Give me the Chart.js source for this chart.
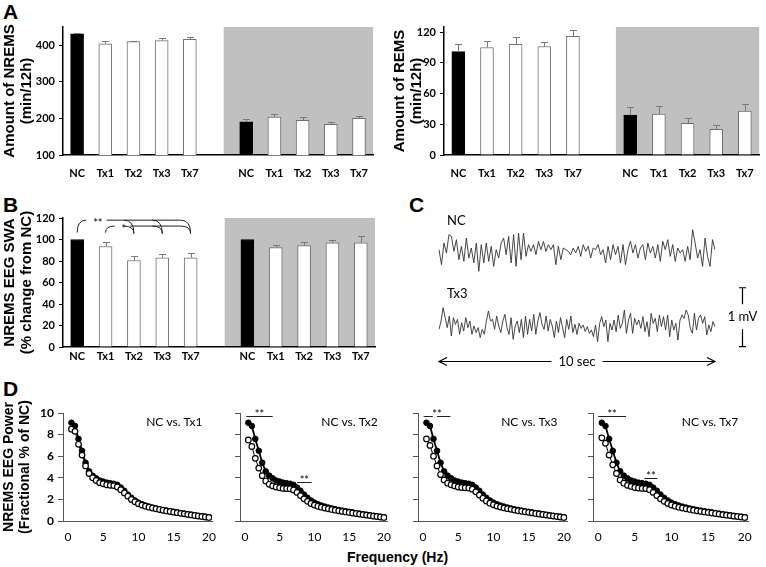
<!DOCTYPE html>
<html>
<head>
<meta charset="utf-8">
<script src="https://cdn.jsdelivr.net/npm/chart.js@4.4.1/dist/chart.umd.min.js"></script>
<style>
  body { margin: 0; background: #fff; width: 766px; height: 567px; position: relative; overflow: hidden; }
  canvas { position: absolute; }
  .panel { position: absolute; font: bold 21px "Liberation Sans", Arial, sans-serif; line-height: 1; color: #000; }
  .xtitle { position: absolute; font: bold 14px "Liberation Sans", Arial, sans-serif; color: #000; }
</style>
</head>
<body>
<div class="panel" style="left:3px;top:1px">A</div>
<div class="panel" style="left:3px;top:194px">B</div>
<div class="panel" style="left:409px;top:194px">C</div>
<div class="panel" style="left:3px;top:378px">D</div>
<div class="xtitle" style="left:347px;top:549px">Frequency (Hz)</div>

<canvas id="nrems" style="left:0;top:0" width="380" height="185"></canvas>
<canvas id="rems" style="left:380px;top:0" width="386" height="185"></canvas>
<canvas id="swa" style="left:0;top:190px" width="380" height="180"></canvas>
<canvas id="eegNC" style="left:430px;top:210px" width="300" height="70"></canvas>
<canvas id="eegTx3" style="left:430px;top:280px" width="336" height="90"></canvas>
<canvas id="specTx1" style="left:0;top:395px" width="225" height="150"></canvas>
<canvas id="specTx2" style="left:225px;top:395px" width="175" height="150"></canvas>
<canvas id="specTx3" style="left:403px;top:395px" width="177" height="150"></canvas>
<canvas id="specTx7" style="left:578px;top:395px" width="188" height="150"></canvas>

<script>
(function () {
  'use strict';

  /* global Chart */

  // ---- data ----
  var groups = ['NC', 'Tx1', 'Tx2', 'Tx3', 'Tx7'];

  // A: sleep amount (min/12h), light phase then dark phase
  var nremsLight = [431, 404, 410, 413, 416];
  var nremsLightSem = [3, 9, 3, 7, 6];
  var nremsDark = [191, 204, 195, 184, 200];
  var nremsDarkSem = [7, 9, 10, 7, 7];

  var remsLight = [101, 105, 108, 106, 116];
  var remsLightSem = [7, 6, 7, 4, 6.5];
  var remsDark = [39, 40, 31, 25, 43];
  var remsDarkSem = [7.5, 8, 5, 4, 6.5];

  // B: NREMS SWA (% of NC)
  var swaLight = [100, 93.5, 80.5, 83, 83];
  var swaLightSem = [0, 4.5, 3.8, 3.7, 4.3];
  var swaDark = [100, 92.5, 94.3, 97, 97];
  var swaDarkSem = [0, 2.2, 3.4, 2.8, 6];

  // C: raw EEG, 10 s (uV)
  var eegNC = [57, -198, 170, 0, 312, 283, 28, 227, -113, 113, -142, 255, -85, 85, -170, 170, -312, 142, -170, 170,
    -142, 113, -227, 57, -85, 170, 255, -28, 283, -170, 312, -227, 340, -113, 340, -57, 142, 28, 142, -28,
    198, 57, 198, 28, 142, 57, 142, -198, 113, -113, 85, 57,
    28, -28, 85, 0, 113, -57, 142, 28, 113, -85, 85, 57, 142, -28, 57, -170, 113, -113, 142, -28,
    113, -170, 142, -198, 57, 198, 0, 142, -85, 85, 142, -113, 170, 0, 113, -85, 142, -142, 198, 57,
    227, -57, 142, -142, 85, 0, 57, -142, 113, -113, 397, 170, -85, 57, -227, 255, -57, -227, 227, 57];
  var eegTx3 = [-57, 85, 312, 142, -28, 170, -170, 142, 28, 113, -142, 57, -85, 142, -28, 85, -142, 0, -113, -28,
    -198, -57, -142, 85, 255, 85, 113, -57, 170, 0, -113, 85, 198, -28, -142, 142, -227, 0, 85, -113,
    113, -198, 170, -142, 113, -85, 198, -142, 85, 227, 28, -57, 170, -85, 113, 0, -198, 85, -113, 142,
    -28, -198, 113, -57, 170, -113, 28, -142,
    45, -40, 17, -96, -11, -125, -68, -181, 17, -266, 45, 159, -11, 102, -266, 45, -68, 102, -96, 187,
    -40, 45, 272, -125, 102, 215, -125, 130, 17, 102, -40, 159, -96, 74, -181, 215, 45, 130, -96, 187,
    -11, 159, -68, 187, -181, 102, -68, 45, -238, 102, 187, 130, 272, 187, -40, -125, 215, -68, 130, 187,
    45, 159, -153, 17, -96, 74, -11];

  // D: NREMS EEG power spectra (fractional % of NC)
  var freqs = [0.5, 1, 1.5, 2, 2.5, 3, 3.5, 4, 4.5, 5, 5.5, 6, 6.5, 7, 7.5, 8, 8.5, 9, 9.5, 10,
    10.5, 11, 11.5, 12, 12.5, 13, 13.5, 14, 14.5, 15, 15.5, 16, 16.5, 17, 17.5, 18, 18.5, 19, 19.5, 20];
  var powerNC = [9.1, 8.8, 7.6, 6.5, 5.4, 4.6, 4.2, 3.95, 3.75, 3.65, 3.55, 3.5, 3.45, 3.35, 3.1, 2.8, 2.45, 2.15, 1.9, 1.7,
    1.55, 1.43, 1.33, 1.24, 1.16, 1.09, 1.02, 0.96, 0.9, 0.85, 0.79, 0.73, 0.68, 0.63, 0.58, 0.53, 0.48, 0.43, 0.39, 0.35];
  var powerTx1 = [8.5, 8.3, 7.1, 6.1, 5.1, 4.4, 4.0, 3.75, 3.55, 3.45, 3.35, 3.3, 3.28, 3.15, 2.9, 2.6, 2.3, 2.0, 1.78, 1.6,
    1.47, 1.37, 1.28, 1.2, 1.13, 1.06, 0.99, 0.93, 0.88, 0.82, 0.77, 0.71, 0.66, 0.61, 0.56, 0.51, 0.46, 0.42, 0.37, 0.33];
  var powerTx2 = [7.5, 6.9, 5.8, 4.9, 4.2, 3.7, 3.4, 3.25, 3.15, 3.08, 3.02, 3.0, 2.98, 2.88, 2.65, 2.35, 2.05, 1.82, 1.62, 1.47,
    1.36, 1.28, 1.2, 1.13, 1.07, 1.0, 0.94, 0.89, 0.84, 0.79, 0.74, 0.69, 0.64, 0.59, 0.54, 0.5, 0.45, 0.41, 0.37, 0.33];
  var powerTx3 = [7.6, 7.0, 6.0, 5.1, 4.3, 3.8, 3.5, 3.35, 3.25, 3.15, 3.1, 3.08, 3.05, 2.95, 2.7, 2.4, 2.1, 1.85, 1.65, 1.5,
    1.38, 1.29, 1.21, 1.14, 1.08, 1.01, 0.95, 0.9, 0.85, 0.8, 0.75, 0.7, 0.65, 0.6, 0.55, 0.5, 0.46, 0.41, 0.37, 0.33];
  var powerTx7 = [7.7, 7.2, 6.1, 5.2, 4.4, 3.8, 3.5, 3.3, 3.2, 3.1, 3.05, 3.02, 3.0, 2.9, 2.65, 2.35, 2.05, 1.82, 1.63, 1.48,
    1.37, 1.28, 1.2, 1.13, 1.07, 1.0, 0.94, 0.89, 0.84, 0.79, 0.74, 0.69, 0.64, 0.59, 0.54, 0.5, 0.45, 0.41, 0.37, 0.33];
  var freqTicks = [0, 5, 10, 15, 20];
  var powerTicks = [0, 2, 4, 6, 8, 10];

  // ---- shared style ----
  Chart.defaults.font.family = 'Lato, "Open Sans", sans-serif';
  Chart.defaults.color = '#000';
  Chart.defaults.animation = false;
  Chart.defaults.plugins.legend.display = false;
  Chart.defaults.plugins.tooltip.enabled = false;

  var titleFont = { family: '"Liberation Sans", Arial, sans-serif', weight: 'bold', size: 15, lineHeight: 1.1 };

  function fixedTicks(list) {
    return function (axis) {
      axis.ticks = list.map(function (v) { return { value: v }; });
    };
  }

  // ---- bar panels (A, B) ----
  function barPanel(id, o) {
    var labels = groups.concat([''], groups);
    var values = o.light.concat([null], o.dark);
    var sems = o.lightSem.concat([null], o.darkSem);

    var shadePlugin = {
      id: 'darkPhase',
      beforeDatasetsDraw: function (chart) {
        var ctx = chart.ctx, a = chart.chartArea, x = chart.scales.x;
        var step = x.getPixelForValue(6) - x.getPixelForValue(5);
        var left = x.getPixelForValue(5) + o.shadeFrom * step;
        ctx.save();
        ctx.fillStyle = '#c0c0c0';
        ctx.fillRect(left, a.top, a.right - left, a.bottom - a.top - 1);
        ctx.restore();
      }
    };

    var semPlugin = {
      id: 'semBars',
      afterDatasetsDraw: function (chart) {
        var ctx = chart.ctx, y = chart.scales.y, meta = chart.getDatasetMeta(0);
        ctx.save();
        ctx.strokeStyle = '#7a7a7a';
        ctx.lineWidth = 1;
        sems.forEach(function (s, i) {
          if (!s) return;
          var bx = Math.round(meta.data[i].x) + 0.5;
          var top = Math.round(y.getPixelForValue(values[i] + s)) + 0.5;
          ctx.beginPath();
          ctx.moveTo(bx, meta.data[i].y);
          ctx.lineTo(bx, top);
          ctx.moveTo(bx - 3.5, top);
          ctx.lineTo(bx + 3.5, top);
          ctx.stroke();
        });
        ctx.restore();
      }
    };

    return new Chart(document.getElementById(id), {
      type: 'bar',
      data: {
        labels: labels,
        datasets: [{
          data: values,
          backgroundColor: labels.map(function (l) { return l === 'NC' ? '#000' : '#fff'; }),
          borderColor: labels.map(function (l) { return l === 'NC' ? '#000' : '#707070'; }),
          borderWidth: 1,
          barThickness: 13,
          borderSkipped: 'bottom'
        }]
      },
      options: {
        responsive: false,
        devicePixelRatio: 1,
        layout: { padding: { top: o.padTop, right: o.padRight, left: 0, bottom: 0 } },
        scales: {
          x: {
            afterFit: function (axis) { axis.height = o.xHeight; },
            border: { display: true, color: '#000', width: 1.5 },
            grid: { display: false, drawTicks: false },
            ticks: { font: { weight: 'bold', size: 11 }, padding: o.xPad, autoSkip: false, maxRotation: 0 }
          },
          y: {
            min: o.min,
            max: o.max,
            afterBuildTicks: fixedTicks(o.ticks),
            afterFit: function (axis) { axis.width = o.yWidth; },
            border: { display: true, color: '#000', width: 1.5 },
            grid: { drawOnChartArea: false, drawTicks: true, tickLength: 4, color: '#000' },
            ticks: { font: { weight: 'bold', size: 11 }, padding: 4 },
            title: { display: true, text: o.title, font: titleFont, padding: { top: o.titlePad, bottom: 0 } }
          }
        }
      },
      plugins: [shadePlugin, semPlugin].concat(o.plugins || [])
    });
  }

  barPanel('nrems', {
    light: nremsLight, lightSem: nremsLightSem, dark: nremsDark, darkSem: nremsDarkSem,
    min: 100, max: 450, ticks: [100, 200, 300, 400],
    title: ['Amount of NREMS', '(min/12h)'], titlePad: 2,
    yWidth: 63, padTop: 27, padRight: 3, xHeight: 30, xPad: 12, shadeFrom: 0.2
  });

  barPanel('rems', {
    light: remsLight, lightSem: remsLightSem, dark: remsDark, darkSem: remsDarkSem,
    min: 0, max: 125, ticks: [0, 30, 60, 90, 120],
    title: ['Amount of REMS', '(min/12h)'], titlePad: 12,
    yWidth: 64, padTop: 27, padRight: 6, xHeight: 30, xPad: 12, shadeFrom: 0.5
  });

  // significance brackets in B (value units on the SWA axis)
  var swaBrackets = [
    { from: 0, label: '**', level: 118, targets: [2, 3, 4] },
    { from: 1, label: '*', level: 112.5, targets: [2, 3, 4] }
  ];
  var bracketEnd = 105.5;

  var bracketPlugin = {
    id: 'swaBrackets',
    afterDatasetsDraw: function (chart) {
      var ctx = chart.ctx, x = chart.scales.x, y = chart.scales.y;
      var yEnd = y.getPixelForValue(bracketEnd);
      ctx.save();
      ctx.strokeStyle = '#222';
      ctx.fillStyle = '#000';
      ctx.lineWidth = 1;
      ctx.font = '11px Lato, sans-serif';
      ctx.textBaseline = 'middle';
      swaBrackets.forEach(function (b) {
        var x0 = x.getPixelForValue(b.from);
        var yl = y.getPixelForValue(b.level);
        ctx.beginPath();
        ctx.moveTo(x0, yEnd - 1);
        ctx.quadraticCurveTo(x0, yl, x0 + 9, yl);
        ctx.stroke();
        var tx = x0 + 16;
        ctx.fillText(b.label, tx, yl + 3);
        var lineStart = tx + ctx.measureText(b.label).width + 4;
        var last = x.getPixelForValue(b.targets[b.targets.length - 1]);
        ctx.beginPath();
        ctx.moveTo(lineStart, yl);
        ctx.lineTo(last - 10, yl);
        b.targets.forEach(function (t) {
          var xt = x.getPixelForValue(t);
          ctx.moveTo(xt - 10, yl);
          ctx.quadraticCurveTo(xt, yl, xt, yEnd);
        });
        ctx.stroke();
      });
      ctx.restore();
    }
  };

  barPanel('swa', {
    light: swaLight, lightSem: swaLightSem, dark: swaDark, darkSem: swaDarkSem,
    min: 0, max: 120, ticks: [0, 20, 40, 60, 80, 100, 120],
    title: ['NREMS EEG SWA', '(% change from NC)'], titlePad: 2,
    yWidth: 63, padTop: 28, padRight: 5, xHeight: 23, xPad: 3, shadeFrom: 0.2,
    plugins: [bracketPlugin]
  });

  // ---- raw EEG traces (C) ----
  var uvPerPx = 17;

  function tracePanel(id, values, name, pad, decorate) {
    return new Chart(document.getElementById(id), {
      type: 'line',
      data: {
        labels: values.map(function (v, i) { return i; }),
        datasets: [{ data: values, borderColor: '#333', borderWidth: 0.9, pointRadius: 0, tension: 0 }]
      },
      options: {
        responsive: false,
        devicePixelRatio: 1,
        layout: { padding: pad },
        scales: {
          x: { display: false },
          y: { display: false, min: -25 * uvPerPx, max: 25 * uvPerPx }
        }
      },
      plugins: [{
        id: 'traceText',
        afterDraw: function (chart) {
          var ctx = chart.ctx;
          ctx.save();
          ctx.fillStyle = '#000';
          ctx.font = '13px Lato, sans-serif';
          ctx.textBaseline = 'middle';
          ctx.fillText(name, chart.chartArea.left + 8, chart.chartArea.top - 7);
          if (decorate) decorate(chart, ctx);
          ctx.restore();
        }
      }]
    });
  }

  tracePanel('eegNC', eegNC, 'NC', { left: 9, right: 15, top: 18, bottom: 2 });

  tracePanel('eegTx3', eegTx3, 'Tx3', { left: 9, right: 51, top: 21, bottom: 19 }, function (chart, ctx) {
    var a = chart.chartArea, y = chart.scales.y;
    // 1 mV scale bar
    var barX = a.right + 27.5;
    var top = y.getPixelForValue(650), bot = y.getPixelForValue(-350);
    var mid = (top + bot) / 2;
    ctx.strokeStyle = '#000';
    ctx.lineWidth = 1.2;
    ctx.beginPath();
    ctx.moveTo(barX - 3.5, top); ctx.lineTo(barX + 3.5, top);
    ctx.moveTo(barX, top); ctx.lineTo(barX, mid - 13);
    ctx.moveTo(barX, mid + 12); ctx.lineTo(barX, bot);
    ctx.moveTo(barX - 3.5, bot); ctx.lineTo(barX + 3.5, bot);
    ctx.stroke();
    ctx.textAlign = 'center';
    ctx.fillText('1 mV', barX, mid);
    // 10 s arrow
    var ay = a.bottom + 10.5, cx = (a.left + a.right) / 2;
    ctx.fillText('10 sec', cx, ay);
    var half = ctx.measureText('10 sec').width / 2 + 7;
    ctx.beginPath();
    ctx.moveTo(a.left, ay); ctx.lineTo(cx - half, ay);
    ctx.moveTo(cx + half, ay); ctx.lineTo(a.right, ay);
    ctx.moveTo(a.left + 8, ay - 4); ctx.lineTo(a.left, ay); ctx.lineTo(a.left + 8, ay + 4);
    ctx.moveTo(a.right - 8, ay - 4); ctx.lineTo(a.right, ay); ctx.lineTo(a.right - 8, ay + 4);
    ctx.stroke();
  });

  // ---- spectra (D) ----
  var spectra = [
    { id: 'specTx1', name: 'Tx1', values: powerTx1, first: true, padRight: 6.5, sig: [] },
    { id: 'specTx2', name: 'Tx2', values: powerTx2, padRight: 4.5,
      sig: [{ segs: [[0.2, 4]], level: 9.7 }, { segs: [[7.5, 9.6]], level: 3.6 }] },
    { id: 'specTx3', name: 'Tx3', values: powerTx3, padRight: 6.5,
      sig: [{ segs: [[0.1, 1.4], [2.0, 3.9]], level: 9.7 }] },
    { id: 'specTx7', name: 'Tx7', values: powerTx7, padRight: 17.5,
      sig: [{ segs: [[0, 3.8]], level: 9.7 }, { segs: [[6.3, 8.1]], level: 4.0 }] }
  ];

  function points(vals) {
    return freqs.map(function (f, i) { return { x: f, y: vals[i] }; });
  }

  spectra.forEach(function (s) {
    var notePlugin = {
      id: 'spectrumNotes',
      afterDraw: function (chart) {
        var ctx = chart.ctx, x = chart.scales.x, y = chart.scales.y;
        ctx.save();
        ctx.fillStyle = '#000';
        ctx.strokeStyle = '#222';
        ctx.lineWidth = 1;
        ctx.font = '12px Lato, sans-serif';
        ctx.textAlign = 'right';
        ctx.textBaseline = 'middle';
        ctx.fillText('NC vs. ' + s.name, x.getPixelForValue(19.1), y.getPixelForValue(9.2));
        ctx.font = '11px Lato, sans-serif';
        ctx.textAlign = 'center';
        ctx.textBaseline = 'alphabetic';
        s.sig.forEach(function (band) {
          var yl = Math.round(y.getPixelForValue(band.level)) + 0.5;
          ctx.beginPath();
          band.segs.forEach(function (seg) {
            ctx.moveTo(x.getPixelForValue(seg[0]), yl);
            ctx.lineTo(x.getPixelForValue(seg[1]), yl);
          });
          ctx.stroke();
          var lo = band.segs[0][0], hi = band.segs[band.segs.length - 1][1];
          ctx.fillText('**', x.getPixelForValue((lo + hi) / 2), yl + 1);
        });
        ctx.restore();
      }
    };

    new Chart(document.getElementById(s.id), {
      type: 'line',
      data: {
        datasets: [{
          label: s.name,
          data: points(s.values),
          borderColor: '#000',
          borderWidth: 1,
          pointRadius: 2.8,
          pointBackgroundColor: '#fff',
          pointBorderColor: '#000',
          pointBorderWidth: 1.2,
          tension: 0
        }, {
          label: 'NC',
          data: points(powerNC),
          borderColor: '#000',
          borderWidth: 1.8,
          pointRadius: 2.8,
          pointBackgroundColor: '#000',
          pointBorderColor: '#000',
          pointBorderWidth: 1,
          tension: 0
        }]
      },
      options: {
        responsive: false,
        devicePixelRatio: 1,
        layout: { padding: { top: 18, right: s.padRight, left: 0, bottom: 0 } },
        scales: {
          x: {
            type: 'linear',
            min: -0.7,
            max: 20.5,
            afterBuildTicks: fixedTicks(freqTicks),
            afterFit: function (axis) { axis.height = 24; },
            border: { display: true, color: '#555', width: 1 },
            grid: { display: false, drawTicks: false },
            ticks: { font: { size: 12 }, padding: 9, maxRotation: 0 }
          },
          y: {
            min: 0,
            max: 10,
            afterBuildTicks: fixedTicks(powerTicks),
            afterFit: function (axis) { axis.width = s.first ? 63 : 15; },
            border: { display: true, color: '#555', width: 1 },
            grid: { drawOnChartArea: false, drawTicks: true, tickLength: 5, color: '#555' },
            ticks: { display: !!s.first, font: { weight: 'bold', size: 12 }, padding: 4 },
            title: {
              display: !!s.first,
              text: ['NREMS EEG Power', '(Fractional % of NC)'],
              font: { family: titleFont.family, weight: 'bold', size: 14, lineHeight: 1.15 },
              padding: { top: 1, bottom: 0 }
            }
          }
        }
      },
      plugins: [notePlugin]
    });
  });
})();
</script>
</body>
</html>
